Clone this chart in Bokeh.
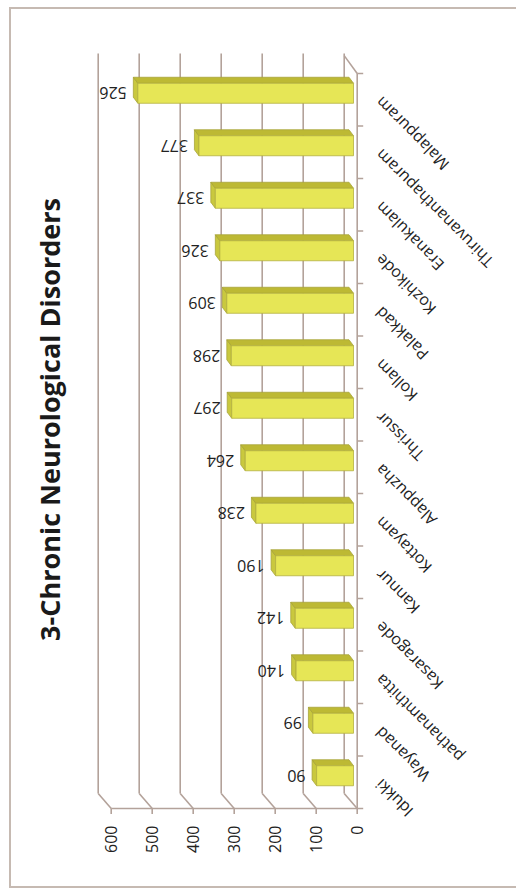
import math
from bokeh.plotting import figure
from bokeh.models import Range1d, FixedTicker, Title, ColumnDataSource, LabelSet
from bokeh.core.properties import value
from bokeh.embed import file_html
from bokeh.resources import INLINE

# ---- data ----
districts = ["Idukki", "Wayanad", "pathanamthitta", "Kasaragode", "Kannur", "Kottayam",
             "Alappuzha", "Thrissur", "Kollam", "Palakkad", "Kozhikode", "Eranakulam",
             "Thiruvananthapuram", "Malappuram"]
cases = [90, 99, 140, 142, 190, 238, 264, 297, 298, 309, 326, 337, 377, 526]
tick_values = [0, 100, 200, 300, 400, 500, 600]
title_text = "3-Chronic Neurological Disorders"

# ---- geometry helpers (pixel -> data units) ----
PXX = 0.41          # px per value unit
PXY = 52.5          # px per category
ux = 1.0 / PXX
uy = 1.0 / PXY
n = len(districts)

DX = 13 * ux        # depth offset (back wall) in x
DY = 15 * uy        # depth offset in y
BX = 3.7 * ux       # bar plane zero offset
BDX = 4.5 * ux      # bar depth
BDY = 6 * uy
LINE = "#b3a29a"

W, H = 516, 889
ML, MR, MT, MB = 72, 10, 20, 71
axis_px = 808                      # screen y of the front value axis
frame_w = W - ML - MR
frame_h = H - MT - MB
x_start = (356.7 - ML) * ux
y_top = (axis_px - MT) * uy
y_bot = y_top - frame_h * uy

p = figure(width=W, height=H,
           x_range=Range1d(x_start, x_start - frame_w * ux),
           y_range=Range1d(y_bot, y_top),
           output_backend="svg", toolbar_location=None, y_axis_location=None,
           min_border_left=ML, min_border_right=MR, min_border_top=MT, min_border_bottom=MB)
p.grid.grid_line_color = None
p.outline_line_color = None
p.background_fill_color = "white"
p.border_fill_alpha = 0
bc = "#c6bab2"
p.styles = {
    "background": (f"linear-gradient({bc},{bc}) 9px 7px / 2px 881px no-repeat, "
                   f"linear-gradient({bc},{bc}) 9px 7px / 507px 2px no-repeat, "
                   f"linear-gradient({bc},{bc}) 9px 886px / 507px 2px no-repeat, white"),
}

# back wall gridlines + floor diagonals + front value-axis ticks
top_y = n + 0.38
gx0, gy0, gx1, gy1 = [], [], [], []
for t in tick_values:
    gx0 += [t + DX, t, t]
    gy0 += [DY, 0, 0]
    gx1 += [t + DX, t + DX, t]
    gy1 += [top_y, DY, -5.5 * uy]
# front value-axis line
gx0.append(0); gy0.append(0); gx1.append(max(tick_values)); gy1.append(0)
# category axis line and top diagonal
gx0 += [0, 0]
gy0 += [0, n]
gx1 += [0, DX]
gy1 += [n, n + 0.34]
# category ticks
for i in range(n + 1):
    gx0.append(0); gy0.append(i)
    gx1.append(-6 * ux); gy1.append(i)
p.segment(x0=gx0, y0=gy0, x1=gx1, y1=gy1, line_color=LINE, line_width=1.6)

# bars (3D look)
front_c = [i + 0.5 + 6.5 * uy for i in range(n)]
fh = 20 * uy
yt = [c + fh / 2 for c in front_c]
yb = [c - fh / 2 for c in front_c]
right = [BX + v for v in cases]

end_xs = [[r, r, r + BDX, r + BDX] for r in right]
end_ys = [[b, t, t + BDY, b + BDY] for b, t in zip(yb, yt)]
p.patches(end_xs, end_ys, fill_color="#c9c83e", line_color="#a8a53a", line_width=0.8)

top_xs = [[BX, r, r + BDX, BX + BDX] for r in right]
top_ys = [[t, t, t + BDY, t + BDY] for t in yt]
p.patches(top_xs, top_ys, fill_color="#bdb934", line_color="#a8a53a", line_width=0.8)

p.hbar(y=front_c, left=BX, right=right, height=fh,
       fill_color="#e6e656", line_color="#b4b040", line_width=0.8)

# value labels (upside down)
src_v = ColumnDataSource(dict(x=[r + 11 * ux for r in right], y=front_c,
                              t=[str(v) for v in cases]))
p.add_layout(LabelSet(x="x", y="y", text="t", source=src_v, angle=math.pi,
                      text_align="left", text_baseline="middle",
                      text_font=value("Open Sans"), text_font_size="16px",
                      text_color="#222222"))

# category labels (diagonal)
src_c = ColumnDataSource(dict(x=[-21 * ux] * n, y=[i + 0.5 for i in range(n)], t=districts))
p.add_layout(LabelSet(x="x", y="y", text="t", source=src_c, angle=3 * math.pi / 4,
                      text_align="right", text_baseline="middle",
                      text_font=value("Open Sans"), text_font_size="16px",
                      text_color="#222222"))

# value axis: tick labels only (line/ticks drawn on the floor edge above)
ax = p.xaxis[0]
ax.ticker = FixedTicker(ticks=tick_values)
ax.axis_line_color = None
ax.major_tick_line_color = None
ax.major_tick_out = 0
ax.major_tick_in = 0
ax.minor_tick_line_color = None
ax.major_label_orientation = math.pi / 2
ax.major_label_standoff = 7
ax.major_label_text_font = "Open Sans"
ax.major_label_text_font_size = "16px"
ax.major_label_text_color = "#222222"

# title on the left
p.add_layout(Title(text=title_text, align="center", text_font="Open Sans",
                   text_font_size="27px", text_font_style="bold",
                   text_color="#1a1a1a"), "left")

open("out.html", "w").write(file_html(p, INLINE))
